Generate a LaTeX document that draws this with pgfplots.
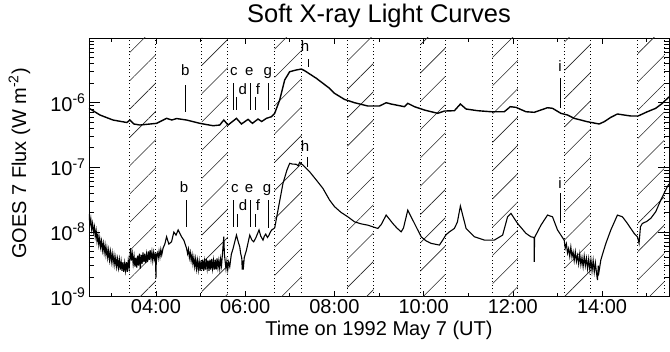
\documentclass[border=0pt]{standalone}
\usepackage{fontspec}
\setmainfont{Liberation Sans}
\usepackage{pgfplots}
\pgfplotsset{compat=1.18}
\usetikzlibrary{patterns.meta}
\newcommand{\fz}{\fontsize{20}{24}\selectfont}
\newcommand{\mk}{\fontsize{15}{18}\selectfont}
\begin{document}
\begin{tikzpicture}
\path[use as bounding box] (0,0) rectangle (670pt,352pt);
\begin{axis}[
  at={(89pt,55.5pt)}, anchor=south west, scale only axis,
  width=580pt, height=258.5pt,
  xmin=2.5, xmax=15.5, ymin=1e-9, ymax=1e-5, ymode=log,
  xtick={4,6,8,10,12,14},
  xticklabels={04:00,06:00,08:00,10:00,12:00,14:00},
  minor xtick={3,5,7,9,11,13,15},
  ytick={1e-9,1e-8,1e-7,1e-6,1e-5},
  yticklabels={10\textsuperscript{-9},10\textsuperscript{-8},10\textsuperscript{-7},10\textsuperscript{-6},{}},
  minor ytick={2e-9,3e-9,4e-9,5e-9,6e-9,7e-9,8e-9,9e-9,2e-8,3e-8,4e-8,5e-8,6e-8,7e-8,8e-8,9e-8,2e-7,3e-7,4e-7,5e-7,6e-7,7e-7,8e-7,9e-7,2e-6,3e-6,4e-6,5e-6,6e-6,7e-6,8e-6,9e-6},
  tick align=inside, tick pos=both,
  major tick length=6pt, minor tick length=4pt,
  major y tick style={/pgfplots/major tick length=11pt},
  minor y tick style={/pgfplots/minor tick length=5pt},
  ticklabel style={font=\fz},
  axis line style={line width=0.6pt},
  every tick/.style={line width=0.6pt, black},
  title={Soft X-ray Light Curves},
  title style={font=\fontsize{25.5}{30}\selectfont, at={(0.5,1)}, anchor=base, yshift=9pt},
  xlabel={Time on 1992 May 7 (UT)},
  xlabel style={font=\fz},
  ylabel={GOES 7 Flux (W m\textsuperscript{-2})},
  ylabel style={font=\fz, at={(axis description cs:-0.1086,0.5145)}, anchor=base},
  clip=true,
]
% hatched bands
\addplot[draw=none, pattern={Lines[angle=45,distance=20pt,line width=0.6pt]}, pattern color=black!85] coordinates {(3.417,1e-9)(3.417,1e-5)(4.0,1e-5)(4.0,1e-9)} --cycle;
\addplot[draw=none, pattern={Lines[angle=45,distance=20pt,line width=0.6pt]}, pattern color=black!85] coordinates {(5.03,1e-9)(5.03,1e-5)(5.61,1e-5)(5.61,1e-9)} --cycle;
\addplot[draw=none, pattern={Lines[angle=45,distance=20pt,line width=0.6pt]}, pattern color=black!85] coordinates {(6.66,1e-9)(6.66,1e-5)(7.265,1e-5)(7.265,1e-9)} --cycle;
\addplot[draw=none, pattern={Lines[angle=45,distance=20pt,line width=0.6pt]}, pattern color=black!85] coordinates {(8.29,1e-9)(8.29,1e-5)(8.875,1e-5)(8.875,1e-9)} --cycle;
\addplot[draw=none, pattern={Lines[angle=45,distance=20pt,line width=0.6pt]}, pattern color=black!85] coordinates {(9.93,1e-9)(9.93,1e-5)(10.49,1e-5)(10.49,1e-9)} --cycle;
\addplot[draw=none, pattern={Lines[angle=45,distance=20pt,line width=0.6pt]}, pattern color=black!85] coordinates {(11.545,1e-9)(11.545,1e-5)(12.11,1e-5)(12.11,1e-9)} --cycle;
\addplot[draw=none, pattern={Lines[angle=45,distance=20pt,line width=0.6pt]}, pattern color=black!85] coordinates {(13.16,1e-9)(13.16,1e-5)(13.75,1e-5)(13.75,1e-9)} --cycle;
\addplot[draw=none, pattern={Lines[angle=45,distance=20pt,line width=0.6pt]}, pattern color=black!85] coordinates {(14.80,1e-9)(14.80,1e-5)(15.39,1e-5)(15.39,1e-9)} --cycle;
% dotted boundaries
\pgfplotsinvokeforeach{3.417,4.0,5.03,5.61,6.66,7.265,8.29,8.875,9.93,10.49,11.545,12.11,13.16,13.75,14.80,15.39}{
  \addplot[black, line width=0.9pt, dash pattern=on 0.9pt off 2.7pt] coordinates {(#1,1e-9)(#1,1e-5)};
}
% upper curve (1-8 A)
\addplot[black, line width=1.4pt] coordinates {
(2.5,8.2e-7)(2.746,6.43e-7)(3.037,5.38e-7)(3.35,4.92e-7)(3.417,5.38e-7)(3.507,4.67e-7)(3.641,4.50e-7)(4.015,4.78e-7)(4.239,5.71e-7)(4.357,5.38e-7)(4.462,5.67e-7)(4.686,5.38e-7)(4.984,4.78e-7)(5.281,4.39e-7)(5.431,4.50e-7)(5.521,5.38e-7)(5.617,4.50e-7)(5.805,5.71e-7)(5.917,4.67e-7)(6.065,5.51e-7)(6.163,4.78e-7)(6.288,5.57e-7)(6.371,5.10e-7)(6.476,5.71e-7)(6.588,6.05e-7)(6.662,6.83e-7)(6.774,1.10e-6)(6.886,2.24e-6)(6.998,3.01e-6)(7.148,3.20e-6)(7.259,3.31e-6)(7.333,3.12e-6)(7.595,2.38e-6)(7.893,1.66e-6)(8.005,1.39e-6)(8.228,1.12e-6)(8.452,9.96e-7)(8.75,8.86e-7)(9.011,8.86e-7)(9.161,9.96e-7)(9.273,9.51e-7)(9.571,8.65e-7)(9.645,9.75e-7)(9.795,8.65e-7)(10.018,7.68e-7)(10.316,6.83e-7)(10.466,7.41e-7)(10.69,7.50e-7)(10.824,9.51e-7)(10.952,7.96e-7)(11.211,7.50e-7)(11.511,7.23e-7)(11.809,7.23e-7)(11.943,8.65e-7)(12.07,8.45e-7)(12.294,7.23e-7)(12.48,7.08e-7)(12.777,8.34e-7)(12.889,8.17e-7)(13.077,6.83e-7)(13.225,6.43e-7)(13.375,5.71e-7)(13.673,5.06e-7)(13.934,4.67e-7)(14.046,5.06e-7)(14.196,5.92e-7)(14.344,6.67e-7)(14.494,6.43e-7)(14.644,6.21e-7)(14.807,6.21e-7)(15.015,7.23e-7)(15.203,8.17e-7)(15.351,9.75e-7)(15.5,1.23e-6)
};
% lower curve (0.5-4 A)
\addplot[black, line width=1.1pt] coordinates {
(2.5,1.9e-8)(2.52,1.3e-8)(2.54,1.6e-8)(2.56,1.1e-8)(2.58,1.35e-8)(2.60,1.0e-8)(2.62,1.2e-8)(2.64,8.5e-9)(2.66,1.05e-8)(2.68,7.2e-9)(2.70,9.0e-9)(2.72,6.3e-9)(2.74,8.0e-9)(2.76,5.8e-9)(2.78,7.2e-9)(2.80,5.2e-9)(2.82,6.6e-9)(2.84,4.8e-9)(2.86,6.2e-9)(2.88,4.4e-9)(2.90,5.6e-9)(2.92,4.0e-9)(2.94,5.2e-9)(2.96,3.7e-9)(2.98,4.9e-9)(3.00,3.5e-9)(3.02,4.6e-9)(3.04,3.3e-9)(3.06,4.3e-9)(3.08,3.1e-9)(3.10,4.0e-9)(3.12,2.9e-9)(3.14,3.8e-9)(3.16,2.8e-9)(3.18,3.7e-9)(3.20,2.6e-9)(3.22,3.5e-9)(3.24,2.5e-9)(3.26,3.4e-9)(3.28,2.4e-9)(3.30,3.3e-9)(3.32,2.5e-9)(3.34,3.4e-9)(3.36,2.4e-9)(3.38,3.6e-9)(3.40,2.8e-9)(3.433,5.6e-9)(3.45,3.6e-9)(3.47,4.6e-9)(3.49,3.2e-9)(3.51,4.2e-9)(3.53,2.9e-9)(3.55,4.0e-9)(3.57,2.8e-9)(3.59,4.3e-9)(3.61,3.0e-9)(3.63,4.6e-9)(3.65,2.7e-9)(3.67,4.4e-9)(3.69,3.2e-9)(3.71,4.8e-9)(3.73,3.4e-9)(3.75,4.6e-9)(3.77,3.3e-9)(3.79,4.5e-9)(3.81,3.4e-9)(3.83,5.0e-9)(3.85,3.7e-9)(3.87,5.2e-9)(3.89,3.8e-9)(3.91,4.9e-9)(3.93,3.6e-9)(3.95,4.8e-9)(3.97,3.8e-9)(3.99,4.6e-9)(4.0,1.9e-9)(4.01,4.2e-9)(4.03,4.7e-9)(4.05,3.9e-9)(4.07,5.0e-9)(4.09,4.1e-9)(4.11,5.3e-9)(4.13,4.4e-9)(4.16,5.6e-9)(4.20,6.5e-9)(4.239,8.40e-9)(4.29,6.47e-9)(4.35,7.03e-9)(4.402,9.93e-9)(4.45,8.9e-9)(4.498,1.07e-8)(4.574,8.40e-9)(4.625,7.46e-9)(4.686,5.6e-9)(4.71,4.6e-9)(4.73,5.4e-9)(4.75,4.0e-9)(4.77,4.8e-9)(4.79,3.6e-9)(4.81,4.4e-9)(4.83,3.2e-9)(4.85,4.0e-9)(4.87,2.9e-9)(4.89,3.8e-9)(4.91,2.7e-9)(4.93,3.6e-9)(4.95,2.6e-9)(4.97,3.5e-9)(4.99,2.5e-9)(5.01,3.6e-9)(5.03,2.6e-9)(5.05,3.7e-9)(5.07,2.5e-9)(5.09,3.5e-9)(5.11,2.6e-9)(5.13,3.8e-9)(5.15,2.7e-9)(5.17,3.6e-9)(5.19,2.5e-9)(5.21,3.7e-9)(5.23,2.6e-9)(5.25,3.8e-9)(5.27,2.7e-9)(5.29,3.6e-9)(5.31,2.6e-9)(5.33,3.7e-9)(5.35,2.6e-9)(5.37,3.9e-9)(5.39,2.8e-9)(5.41,3.6e-9)(5.43,2.7e-9)(5.45,3.8e-9)(5.47,3.0e-9)(5.498,5.2e-9)(5.521,8.4e-9)(5.535,4.5e-9)(5.55,3.6e-9)(5.57,2.7e-9)(5.59,3.5e-9)(5.61,2.6e-9)(5.63,3.4e-9)(5.655,2.9e-9)(5.69,4.5e-9)(5.729,5.5e-9)(5.805,8.91e-9)(5.85,6.8e-9)(5.879,5.87e-9)(5.90,4.6e-9)(5.924,3.93e-9)(5.935,2.6e-9)(5.945,3.6e-9)(5.957,2.6e-9)(5.98,4.0e-9)(6.029,5.22e-9)(6.103,8.91e-9)(6.15,7.5e-9)(6.192,7.03e-9)(6.237,8.02e-9)(6.311,1.07e-8)(6.35,8.6e-9)(6.4,7.46e-9)(6.43,8.6e-9)(6.461,9.24e-9)(6.50,8.2e-9)(6.535,8.91e-9)(6.56,9.8e-9)(6.595,1.07e-8)(6.662,1.15e-8)(6.736,2.17e-8)(6.848,5.64e-8)(6.937,9.06e-8)(6.998,1.15e-7)(7.06,1.12e-7)(7.148,1.11e-7)(7.19,1.05e-7)(7.221,1.19e-7)(7.295,1.08e-7)(7.445,8.51e-8)(7.595,6.34e-8)(7.743,4.71e-8)(7.893,3.10e-8)(8.005,2.45e-8)(8.15,2.0e-8)(8.302,1.71e-8)(8.452,1.43e-8)(8.6,1.33e-8)(8.75,1.27e-8)(8.974,1.13e-8)(9.05,1.3e-8)(9.161,1.82e-8)(9.309,1.35e-8)(9.40,1.15e-8)(9.497,1.00e-8)(9.549,1.15e-8)(9.645,2.17e-8)(9.795,1.35e-8)(9.945,8.40e-9)(10.05,7.3e-9)(10.169,6.64e-9)(10.354,6.25e-9)(10.428,7.46e-9)(10.5,9.0e-9)(10.578,1.00e-8)(10.69,1.13e-8)(10.757,1.42e-8)(10.824,2.51e-8)(10.952,1.13e-8)(11.137,8.40e-9)(11.361,7.46e-9)(11.585,7.46e-9)(11.771,8.91e-9)(11.882,1.71e-8)(11.958,1.93e-8)(12.106,1.35e-8)(12.294,9.48e-9)(12.406,8.40e-9)(12.475,8.2e-9)(12.48,3.44e-9)(12.487,8.2e-9)(12.63,1.27e-8)(12.777,1.82e-8)(12.889,1.71e-8)(13.001,1.07e-8)(13.151,7.46e-9)(13.175,5.6e-9)(13.2,6.5e-9)(13.225,4.7e-9)(13.25,5.5e-9)(13.275,4.2e-9)(13.3,5.8e-9)(13.325,4.1e-9)(13.35,4.9e-9)(13.375,3.6e-9)(13.4,4.9e-9)(13.425,3.5e-9)(13.45,4.3e-9)(13.475,3.2e-9)(13.5,4.5e-9)(13.525,3.1e-9)(13.55,4.0e-9)(13.575,2.9e-9)(13.6,4.2e-9)(13.625,3.0e-9)(13.65,3.9e-9)(13.675,2.7e-9)(13.7,3.8e-9)(13.725,2.6e-9)(13.75,3.7e-9)(13.775,2.5e-9)(13.8,3.6e-9)(13.825,2.4e-9)(13.85,3.3e-9)(13.875,2.3e-9)(13.897,1.8e-9)(13.915,3.0e-9)(13.93,2.4e-9)(13.973,3.7e-9)(14.03,5.0e-9)(14.085,6.64e-9)(14.196,1.07e-8)(14.344,1.82e-8)(14.456,1.71e-8)(14.568,1.35e-8)(14.718,9.48e-9)(14.792,8.40e-9)(14.829,6.64e-9)(14.86,1.2e-8)(14.903,1.35e-8)(15.0,1.45e-8)(15.091,1.62e-8)(15.203,2.05e-8)(15.315,3.10e-8)(15.462,4.99e-8)(15.5,5.5e-8)
};
% event marker lines, upper curve
\addplot[black, line width=0.7pt] coordinates {(4.67,1.87e-6)(4.67,7.15e-7)};
\addplot[black, line width=0.7pt] coordinates {(5.745,2.01e-6)(5.745,7.68e-7)};
\addplot[black, line width=0.7pt] coordinates {(5.805,1.23e-6)(5.805,7.68e-7)};
\addplot[black, line width=0.7pt] coordinates {(6.125,2.01e-6)(6.125,7.68e-7)};
\addplot[black, line width=0.7pt] coordinates {(6.221,1.23e-6)(6.221,7.68e-7)};
\addplot[black, line width=0.7pt] coordinates {(6.512,2.01e-6)(6.512,7.68e-7)};
\addplot[black, line width=0.7pt] coordinates {(7.407,4.73e-6)(7.407,3.56e-6)};
\addplot[black, line width=0.7pt] coordinates {(13.06,2.38e-6)(13.06,8.17e-7)};
% event marker lines, lower curve
\addplot[black, line width=0.7pt] coordinates {(4.685,3.10e-8)(4.685,1.20e-8)};
\addplot[black, line width=0.7pt] coordinates {(5.745,3.10e-8)(5.745,1.20e-8)};
\addplot[black, line width=0.7pt] coordinates {(5.818,1.87e-8)(5.818,1.20e-8)};
\addplot[black, line width=0.7pt] coordinates {(6.125,3.10e-8)(6.125,1.20e-8)};
\addplot[black, line width=0.7pt] coordinates {(6.221,1.87e-8)(6.221,1.20e-8)};
\addplot[black, line width=0.7pt] coordinates {(6.52,3.10e-8)(6.52,1.16e-8)};
\addplot[black, line width=0.7pt] coordinates {(7.40,1.45e-7)(7.40,1.02e-7)};
\addplot[black, line width=0.7pt] coordinates {(13.06,3.99e-8)(13.06,1.35e-8)};
% event letters
\node[font=\mk, anchor=base, inner sep=0pt] at (axis cs:4.659,2.61e-6) {b};
\node[font=\mk, anchor=base, inner sep=0pt] at (axis cs:5.745,2.61e-6) {c};
\node[font=\mk, anchor=base, inner sep=0pt] at (axis cs:6.091,2.61e-6) {e};
\node[font=\mk, anchor=base, inner sep=0pt] at (axis cs:6.505,2.61e-6) {g};
\node[font=\mk, anchor=base, inner sep=0pt] at (axis cs:5.946,1.34e-6) {d};
\node[font=\mk, anchor=base, inner sep=0pt] at (axis cs:6.288,1.34e-6) {f};
\node[font=\mk, anchor=base, inner sep=0pt] at (axis cs:7.345,6.14e-6) {h};
\node[font=\mk, anchor=base, inner sep=0pt] at (axis cs:13.06,3.01e-6) {i};
\node[font=\mk, anchor=base, inner sep=0pt] at (axis cs:4.628,4.08e-8) {b};
\node[font=\mk, anchor=base, inner sep=0pt] at (axis cs:5.767,4.08e-8) {c};
\node[font=\mk, anchor=base, inner sep=0pt] at (axis cs:6.087,4.08e-8) {e};
\node[font=\mk, anchor=base, inner sep=0pt] at (axis cs:6.49,4.08e-8) {g};
\node[font=\mk, anchor=base, inner sep=0pt] at (axis cs:5.953,2.17e-8) {d};
\node[font=\mk, anchor=base, inner sep=0pt] at (axis cs:6.288,2.17e-8) {f};
\node[font=\mk, anchor=base, inner sep=0pt] at (axis cs:7.345,1.74e-7) {h};
\node[font=\mk, anchor=base, inner sep=0pt] at (axis cs:13.06,4.76e-8) {i};
\end{axis}
\end{tikzpicture}
\end{document}
